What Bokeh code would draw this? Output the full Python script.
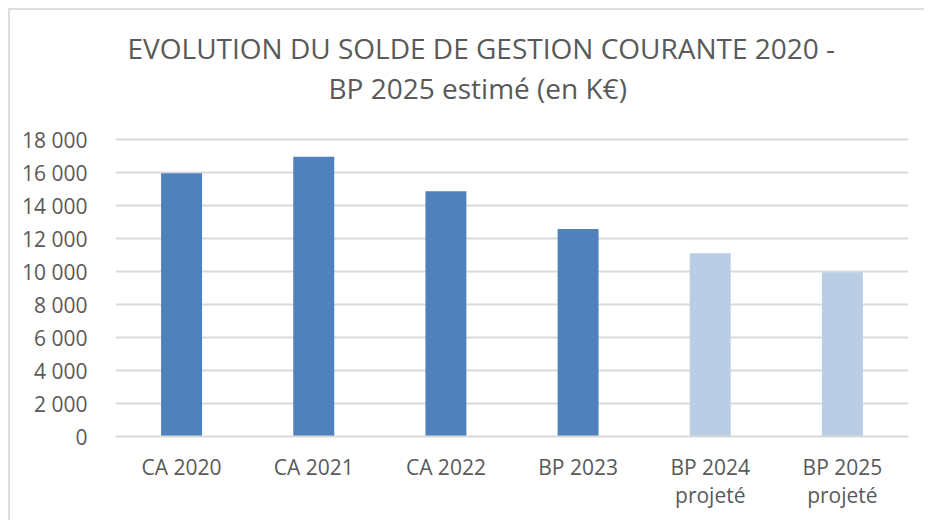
from bokeh.plotting import figure
from bokeh.models import ColumnDataSource, FactorRange, Range1d, FixedTicker, CustomJSTickFormatter, Title
from bokeh.embed import file_html
from bokeh.resources import INLINE

categories = ["CA 2020", "CA 2021", "CA 2022", "BP 2023", "BP 2024\nprojeté", "BP 2025\nprojeté"]
values = [15950, 16960, 14860, 12570, 11110, 9960]
colors = ["#4F81BD", "#4F81BD", "#4F81BD", "#4F81BD", "#B9CDE5", "#B9CDE5"]
y_ticks = [0, 2000, 4000, 6000, 8000, 10000, 12000, 14000, 16000, 18000]
title_lines = ["EVOLUTION DU SOLDE DE GESTION COURANTE 2020 -", "BP 2025 estimé (en K€)"]

FONT = "Open Sans"
TXT = "#595959"
GRID = "#D9D9D9"

src = ColumnDataSource(dict(cat=categories, val=values, color=colors))

p = figure(x_range=FactorRange(*categories), y_range=Range1d(0, 20000),
           width=916, height=512, output_backend="svg", toolbar_location=None,
           min_border_left=105, min_border_right=18, min_border_top=96, min_border_bottom=86)

p.vbar(x="cat", top="val", width=0.31, fill_color="color", line_color=None, source=src)

p.outline_line_color = None
p.background_fill_color = "white"
p.border_fill_color = "white"
p.styles = {"margin-left": "8px", "margin-top": "8px",
            "border-top": "2px solid #DEDEDE", "border-left": "2px solid #DEDEDE"}

# outer title line
p.title.text = title_lines[0]
p.title.align = "left"
p.title.offset = 12
p.title.text_font = FONT
p.title.text_font_size = "28px"
p.title.text_font_style = "normal"
p.title.text_color = TXT
p.title.standoff = 0

# inner title line
t2 = Title(text=title_lines[1], align="left", offset=213, text_font=FONT,
           text_font_size="28px", text_font_style="normal", text_color=TXT, standoff=0)
p.add_layout(t2, "above")

p.xgrid.grid_line_color = None
p.ygrid.grid_line_color = GRID
p.ygrid.grid_line_width = 2
p.yaxis.ticker = FixedTicker(ticks=y_ticks)
p.yaxis.formatter = CustomJSTickFormatter(code="""
    return tick.toString().replace(/\\B(?=(\\d{3})+(?!\\d))/g, ' ');
""")
p.yaxis.axis_line_color = None
p.yaxis.major_tick_line_color = None
p.yaxis.minor_tick_line_color = None
p.yaxis.major_label_standoff = 22
p.yaxis.major_label_text_font = FONT
p.yaxis.major_label_text_font_size = "21px"
p.yaxis.major_label_text_color = TXT

p.xaxis.axis_line_color = GRID
p.xaxis.axis_line_width = 2
p.xaxis.major_tick_line_color = None
p.xaxis.minor_tick_line_color = None
p.xaxis.major_label_standoff = 10
p.xaxis.major_label_text_font = FONT
p.xaxis.major_label_text_font_size = "21px"
p.xaxis.major_label_text_line_height = 1.0
p.xaxis.major_label_text_color = TXT
p.x_range.range_padding = 0
p.x_range.group_padding = 0

open("out.html", "w").write(file_html(p, INLINE))
